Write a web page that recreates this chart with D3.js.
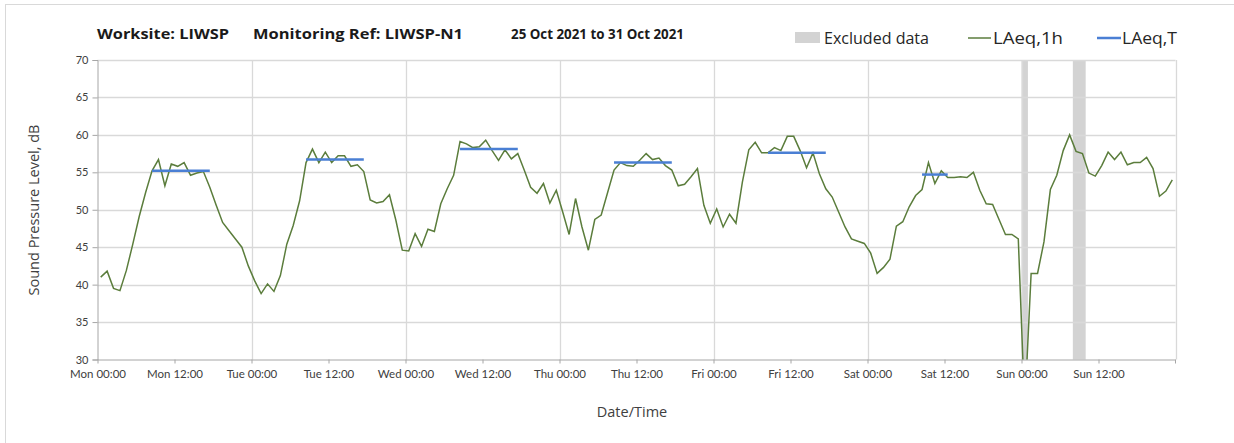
<!DOCTYPE html>
<html><head><meta charset="utf-8">
<script src="https://cdn.jsdelivr.net/npm/d3@7"></script>
<style>
html,body{margin:0;padding:0;background:#fff;}
svg{display:block;font-family:Lato,"Open Sans",sans-serif;}
</style></head>
<body><svg id="chart" width="1234" height="443"></svg>
<script>
// Hourly LAeq,1h values (dB), hour index 0 = Mon 00:00-01:00
const hourlyMon = [41.0,41.8,39.5,39.2,41.9,45.4,49.1,52.3,55.2,56.7,53.2,56.1,55.8,56.3,54.6,54.9,55.1,53.0,50.6,48.3,47.2,46.1,45.0,42.5];
const hourlyTue = [40.5,38.8,40.1,39.1,41.2,45.4,47.9,51.2,56.3,58.1,56.3,57.7,56.3,57.2,57.2,55.8,56.0,55.1,51.3,50.9,51.1,52.0,48.6,44.6];
const hourlyWed = [44.5,46.8,45.1,47.4,47.1,50.8,52.8,54.6,59.1,58.8,58.3,58.4,59.3,57.9,56.6,58.0,56.8,57.5,55.3,53.0,52.2,53.5,50.9,52.6];
const hourlyThu = [49.7,46.7,51.5,47.7,44.6,48.7,49.3,52.3,55.3,56.3,55.9,55.8,56.6,57.5,56.7,56.9,55.9,55.3,53.2,53.4,54.4,55.5,50.6,48.2];
const hourlyFri = [50.1,47.7,49.4,48.2,53.7,58.0,59.0,57.6,57.6,58.3,57.9,59.8,59.8,57.9,55.6,57.6,54.8,52.8,51.7,49.7,47.7,46.1,45.8,45.5];
const hourlySat = [44.2,41.5,42.3,43.4,47.8,48.4,50.4,51.9,52.7,56.3,53.5,55.2,54.3,54.3,54.4,54.3,55.0,52.6,50.8,50.7,48.7,46.7,46.7,46.1];
const hourlySun = [23.5,41.5,41.5,45.7,52.7,54.6,57.9,60.0,57.8,57.5,54.9,54.5,55.9,57.7,56.7,57.7,56.0,56.3,56.3,57.0,55.5,51.8,52.5,54.0];
const hourly = [].concat(hourlyMon,hourlyTue,hourlyWed,hourlyThu,hourlyFri,hourlySat,hourlySun);

// LAeq,T periods (start hour, end hour of hourly points) and values
const periodStart = [8, 32, 56, 80, 104, 128];
const periodEnd   = [17, 41, 65, 89, 113, 132];
const periodValue = [55.2, 56.7, 58.1, 56.3, 57.6, 54.7];

// Excluded data periods (start hour, end hour)
const exclStart = [144, 152];
const exclEnd   = [145, 154];

const xTickLabels = ["Mon 00:00","Mon 12:00","Tue 00:00","Tue 12:00","Wed 00:00","Wed 12:00","Thu 00:00","Thu 12:00","Fri 00:00","Fri 12:00","Sat 00:00","Sat 12:00","Sun 00:00","Sun 12:00"];
const yTicks = [30,35,40,45,50,55,60,65,70];

const svg = d3.select("#chart");
const L = 97.5, R = 1175.5, T = 60, B = 359.5;
const x = d3.scaleLinear().domain([0,168]).range([L,R]);
const y = d3.scaleLinear().domain([30,70]).range([B,T]);

const grid = "#d9d9d9", axisCol = "#a6a6a6", textCol = "#404040";

// outer frame (top/left visible)
svg.append("rect").attr("x",5.5).attr("y",4.5).attr("width",1240).attr("height",460)
  .attr("fill","none").attr("stroke","#d9d9d9");

// excluded bars
svg.append("g").selectAll("rect").data(exclStart).join("rect")
  .attr("x",(d)=>x(d)).attr("width",(d,i)=>x(exclEnd[i])-x(d))
  .attr("y",y(70)).attr("height",y(30)-y(70)).attr("fill","#d3d3d3");

// horizontal gridlines
svg.append("g").selectAll("line").data(yTicks.filter(d=>d>30)).join("line")
  .attr("x1",L).attr("x2",R).attr("y1",d=>Math.round(y(d))+0.5).attr("y2",d=>Math.round(y(d))+0.5)
  .attr("stroke",grid).attr("stroke-width",1.3);
// vertical gridlines daily
svg.append("g").selectAll("line").data(d3.range(24,169,24)).join("line")
  .attr("x1",d=>Math.round(x(d))+0.5).attr("x2",d=>Math.round(x(d))+0.5).attr("y1",T).attr("y2",B)
  .attr("stroke",grid).attr("stroke-width",1.3);

// axes
const yAxis = d3.axisLeft(y).tickValues(yTicks).tickSize(5).tickPadding(4).tickFormat(d3.format("d"));
const gy = svg.append("g").attr("transform",`translate(${L},0)`).call(yAxis);
gy.select(".domain").attr("stroke",axisCol);
gy.selectAll(".tick line").attr("stroke",axisCol);
gy.selectAll("text").attr("fill",textCol).style("font-size","11px").style("font-family","Lato");

const xAxis = d3.axisBottom(x).tickValues(d3.range(0,168,12)).tickSize(4).tickPadding(6)
  .tickFormat((d,i)=>xTickLabels[i]);
const gx = svg.append("g").attr("transform",`translate(0,${B})`).call(xAxis);
gx.select(".domain").attr("stroke",axisCol).attr("d",`M${L},0.5H${R}`);
gx.selectAll(".tick line").attr("stroke",axisCol);
gx.selectAll("text").attr("fill",textCol).style("font-size","11.5px").style("font-family","Lato");
// end tick
gx.append("line").attr("x1",R).attr("x2",R).attr("y1",0).attr("y2",4).attr("stroke",axisCol);

// LAeq,1h line, clipped to plot area
svg.append("clipPath").attr("id","clip").append("rect")
  .attr("x",L).attr("y",T).attr("width",R-L).attr("height",B-T);
const line = d3.line().x((d,i)=>x(i+0.5)).y(d=>y(d));
svg.append("path").datum(hourly).attr("d",line).attr("clip-path","url(#clip)")
  .attr("fill","none").attr("stroke","#5b7d3c").attr("stroke-width",1.5);

// LAeq,T segments
svg.append("g").selectAll("line").data(periodValue).join("line")
  .attr("x1",(d,i)=>x(periodStart[i]+0.5)).attr("x2",(d,i)=>x(periodEnd[i]+0.5))
  .attr("y1",d=>y(d)).attr("y2",d=>y(d))
  .attr("stroke","#4a7fd4").attr("stroke-width",2.5);

// Title
const title = svg.append("g").attr("fill","#1a1a1a").style("font-weight","bold").style("font-size","15px")
  .style("font-family","'Open Sans'");
title.append("text").attr("x",97).attr("y",39).attr("textLength",132).attr("lengthAdjust","spacingAndGlyphs").text("Worksite: LIWSP");
title.append("text").attr("x",253).attr("y",39).attr("textLength",210).attr("lengthAdjust","spacingAndGlyphs").text("Monitoring Ref: LIWSP-N1");
title.append("text").attr("x",511).attr("y",39).attr("textLength",173).attr("lengthAdjust","spacingAndGlyphs").text("25 Oct 2021 to 31 Oct 2021");

// Legend
const lg = svg.append("g").style("font-size","16px").style("font-family","'Open Sans'").attr("fill","#262626");
lg.append("rect").attr("x",795).attr("y",32).attr("width",25).attr("height",11).attr("fill","#d3d3d3");
lg.append("text").attr("x",824).attr("y",44).attr("textLength",105).attr("lengthAdjust","spacingAndGlyphs").text("Excluded data");
lg.append("line").attr("x1",968).attr("x2",991).attr("y1",38).attr("y2",38).attr("stroke","#5b7d3c").attr("stroke-width",1.5);
lg.append("text").attr("x",993).attr("y",44).attr("textLength",70).attr("lengthAdjust","spacingAndGlyphs").text("LAeq,1h");
lg.append("line").attr("x1",1097).attr("x2",1121).attr("y1",38).attr("y2",38).attr("stroke","#4a7fd4").attr("stroke-width",2.5);
lg.append("text").attr("x",1122).attr("y",44).attr("textLength",55).attr("lengthAdjust","spacingAndGlyphs").text("LAeq,T");

// Axis titles
svg.append("text").attr("transform","translate(39,210) rotate(-90)").attr("text-anchor","middle")
  .style("font-size","14.5px").style("font-family","'Open Sans'").attr("fill",textCol).text("Sound Pressure Level, dB");
svg.append("text").attr("x",632).attr("y",417).attr("text-anchor","middle")
  .style("font-size","14.5px").style("font-family","'Open Sans'").attr("fill",textCol).text("Date/Time");
</script></body></html>
